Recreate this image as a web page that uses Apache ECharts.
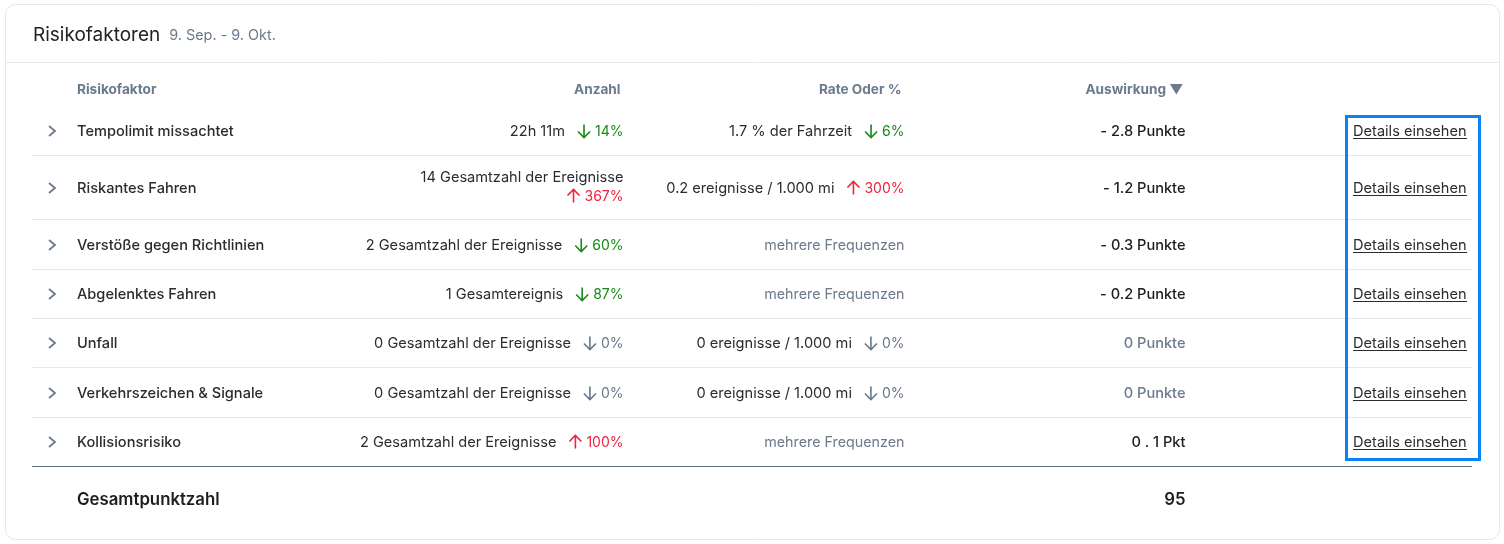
<!DOCTYPE html>
<html>
<head>
<meta charset="utf-8">
<title>Risikofaktoren</title>
<style>
  html, body { margin: 0; padding: 0; background: #fff; }
  #chart { width: 1504px; height: 544px; }
</style>
<script src="https://cdn.jsdelivr.net/npm/echarts@6/dist/echarts.min.js"></script>
</head>
<body>
<div id="chart"></div>
<script>
// Table contents
const riskFactors = ['Tempolimit missachtet', 'Riskantes Fahren', 'Verstöße gegen Richtlinien', 'Abgelenktes Fahren', 'Unfall', 'Verkehrszeichen & Signale', 'Kollisionsrisiko'];
const counts = ['22h 11m', '14 Gesamtzahl der Ereignisse', '2 Gesamtzahl der Ereignisse', '1 Gesamtereignis', '0 Gesamtzahl der Ereignisse', '0 Gesamtzahl der Ereignisse', '2 Gesamtzahl der Ereignisse'];
const countChanges = [14, 367, 60, 87, 0, 0, 100];
const countTrends = ['down', 'up', 'down', 'down', 'flat', 'flat', 'up'];
const rates = ['1.7 % der Fahrzeit', '0.2 ereignisse / 1.000 mi', 'mehrere Frequenzen', 'mehrere Frequenzen', '0 ereignisse / 1.000 mi', '0 ereignisse / 1.000 mi', 'mehrere Frequenzen'];
const rateChanges = [6, 300, null, null, 0, 0, null];
const rateTrends = ['down', 'up', null, null, 'flat', 'flat', null];
const impacts = ['- 2.8 Punkte', '- 1.2 Punkte', '- 0.3 Punkte', '- 0.2 Punkte', '0 Punkte', '0 Punkte', '0 . 1 Pkt'];
const headers = ['Risikofaktor', 'Anzahl', 'Rate Oder %', 'Auswirkung ▼'];
const totalLabel = 'Gesamtpunktzahl';
const totalScore = '95';
const linkLabel = 'Details einsehen';

// Layout, in chart units (one unit is one pixel of the 1504x544 canvas)
const ROW_CENTERS = [131, 188, 245, 294, 343, 393, 442];
const ROW_LINES = [155.5, 219.5, 269.5, 318.5, 367.5, 417.5];
const FONT = 'Inter, "Noto Sans", sans-serif';
const BODY_SIZE = 14.6;
const PCT_SIZE = 14;
const TREND_COLORS = { down: '#148a14', up: '#f0203f', flat: '#66768a' };
const INK = '#2b2c30';
const MUTED = '#6b7a8c';

const measure = document.createElement('canvas').getContext('2d');
function textWidth(text, size, weight) {
    measure.font = `${weight || 400} ${size}px ${FONT}`;
    return measure.measureText(text).width;
}

function label(api, x, y, text, opts) {
    const p = api.coord([x, y]);
    return {
        type: 'text',
        style: {
            text: text,
            x: p[0],
            y: p[1] + 1,
            align: opts.align || 'left',
            verticalAlign: 'middle',
            fontFamily: FONT,
            fontSize: opts.size || BODY_SIZE,
            fontWeight: opts.weight || 400,
            fill: opts.color || INK
        }
    };
}

function rule(api, x1, x2, y, color, width) {
    const a = api.coord([x1, y]);
    const b = api.coord([x2, y]);
    return {
        type: 'line',
        shape: { x1: a[0], y1: a[1], x2: b[0], y2: b[1] },
        style: { stroke: color, lineWidth: width || 1 }
    };
}

// Vertical arrow with its centre at (x, y)
function arrow(api, x, y, trend) {
    const c = api.coord([x, y]);
    const dir = trend === 'up' ? -1 : 1;
    const color = TREND_COLORS[trend];
    return {
        type: 'group',
        children: [
            {
                type: 'line',
                shape: { x1: c[0], y1: c[1] - 6.5 * dir, x2: c[0], y2: c[1] + 6.5 * dir },
                style: { stroke: color, lineWidth: 1.6 }
            },
            {
                type: 'polyline',
                shape: { points: [[c[0] - 6, c[1] + 0.5 * dir], [c[0], c[1] + 6.5 * dir], [c[0] + 6, c[1] + 0.5 * dir]] },
                style: { stroke: color, lineWidth: 1.6, fill: null }
            }
        ]
    };
}

// One text + arrow + percentage cell, right aligned at x
function cell(api, x, y, text, change, trend) {
    const pct = change + '%';
    const pctWidth = textWidth(pct, PCT_SIZE);
    const arrowX = x - pctWidth - 11;
    return [
        label(api, x, y, pct, { align: 'right', size: PCT_SIZE, color: TREND_COLORS[trend] }),
        arrow(api, arrowX, y, trend),
        text ? label(api, arrowX - 19, y, text, { align: 'right' }) : null
    ].filter(Boolean);
}

function renderRow(params, api) {
    const i = api.value(0);
    const y = ROW_CENTERS[i];
    const children = [];

    // expand chevron
    const c = api.coord([52, y]);
    children.push({
        type: 'polyline',
        shape: { points: [[c[0] - 3, c[1] - 5], [c[0] + 3, c[1]], [c[0] - 3, c[1] + 5]] },
        style: { stroke: MUTED, lineWidth: 1.8, fill: null }
    });

    children.push(label(api, 77, y, riskFactors[i], { weight: 500 }));

    // the second row wraps onto two lines
    if (i === 1) {
        children.push(label(api, 623.5, y - 11, counts[i], { align: 'right' }));
        children.push(...cell(api, 623.5, y + 8, null, countChanges[i], countTrends[i]));
    } else {
        children.push(...cell(api, 623.5, y, counts[i], countChanges[i], countTrends[i]));
    }

    if (rateChanges[i] === null) {
        children.push(label(api, 904.5, y, rates[i], { align: 'right', size: 14.3, color: MUTED }));
    } else {
        children.push(...cell(api, 904.5, y, rates[i], rateChanges[i], rateTrends[i]));
    }

    const zeroImpact = impacts[i] === '0 Punkte';
    children.push(label(api, 1185.5, y, impacts[i], {
        align: 'right', weight: 500, color: zeroImpact ? MUTED : '#1c1d20'
    }));

    children.push(label(api, 1353, y, linkLabel, {}));
    children.push(rule(api, 1353, 1467, y + 7.5, INK, 1));

    return { type: 'group', children: children };
}

function renderHeader(params, api) {
    const aligns = ['left', 'right', 'right', 'right'];
    const xs = [77, 620.5, 901.5, 1183.5];
    const i = api.value(0);
    return label(api, xs[i], 89, headers[i], { align: aligns[i], size: 13.6, weight: 700, color: MUTED });
}

function renderRule(params, api) {
    return rule(api, 32, 1472, ROW_LINES[api.value(0)], '#e8e8ec', 1);
}

const chart = echarts.init(document.getElementById('chart'), null, { renderer: 'canvas' });

chart.setOption({
    animation: false,
    backgroundColor: '#ffffff',
    title: {
        left: 33,
        top: 26,
        padding: 0,
        text: '{t|Risikofaktoren}{s|9. Sep. - 9. Okt.}',
        textStyle: {
            fontWeight: 400,
            rich: {
                t: { fontFamily: FONT, fontSize: 19, fontWeight: 400, color: '#202226', padding: [0, 9, 0, 0] },
                s: { fontFamily: FONT, fontSize: 14.4, fontWeight: 400, color: MUTED }
            }
        }
    },
    grid: { left: 0, right: 0, top: 0, bottom: 0 },
    xAxis: { type: 'value', min: 0, max: 1504, show: false },
    yAxis: { type: 'value', min: 0, max: 544, inverse: true, show: false },
    graphic: [
        {
            type: 'rect',
            z: -1,
            shape: { x: 5.5, y: 4.5, width: 1494, height: 535, r: 10 },
            style: { fill: '#fff', stroke: '#e6e8ee', lineWidth: 1 }
        },
        {
            type: 'line',
            shape: { x1: 6, y1: 62.5, x2: 1499, y2: 62.5 },
            style: { stroke: '#e8e9ee', lineWidth: 1 }
        },
        {
            type: 'line',
            shape: { x1: 32, y1: 466.5, x2: 1472, y2: 466.5 },
            style: { stroke: '#5f7080', lineWidth: 1 }
        },
        {
            type: 'rect',
            z: 10,
            shape: { x: 1346.5, y: 116.5, width: 133, height: 343 },
            style: { fill: null, stroke: '#0a84f5', lineWidth: 3 }
        }
    ],
    series: [
        {
            type: 'custom',
            coordinateSystem: 'cartesian2d',
            silent: true,
            data: ROW_LINES.map((_, i) => [i]),
            encode: { x: 0, y: 0 },
            clip: false,
            renderItem: renderRule
        },
        {
            type: 'custom',
            coordinateSystem: 'cartesian2d',
            silent: true,
            data: headers.map((_, i) => [i]),
            encode: { x: 0, y: 0 },
            clip: false,
            renderItem: renderHeader
        },
        {
            type: 'custom',
            coordinateSystem: 'cartesian2d',
            silent: true,
            data: riskFactors.map((_, i) => [i]),
            encode: { x: 0, y: 0 },
            clip: false,
            renderItem: renderRow
        },
        {
            type: 'custom',
            coordinateSystem: 'cartesian2d',
            silent: true,
            data: [[0]],
            encode: { x: 0, y: 0 },
            clip: false,
            renderItem: (params, api) => ({
                type: 'group',
                children: [
                    label(api, 77, 499, totalLabel, { size: 16.8, weight: 600, color: '#1c1d20' }),
                    label(api, 1185.5, 499, totalScore, { align: 'right', size: 16.8, weight: 600, color: '#1c1d20' })
                ]
            })
        }
    ]
});
</script>
</body>
</html>
